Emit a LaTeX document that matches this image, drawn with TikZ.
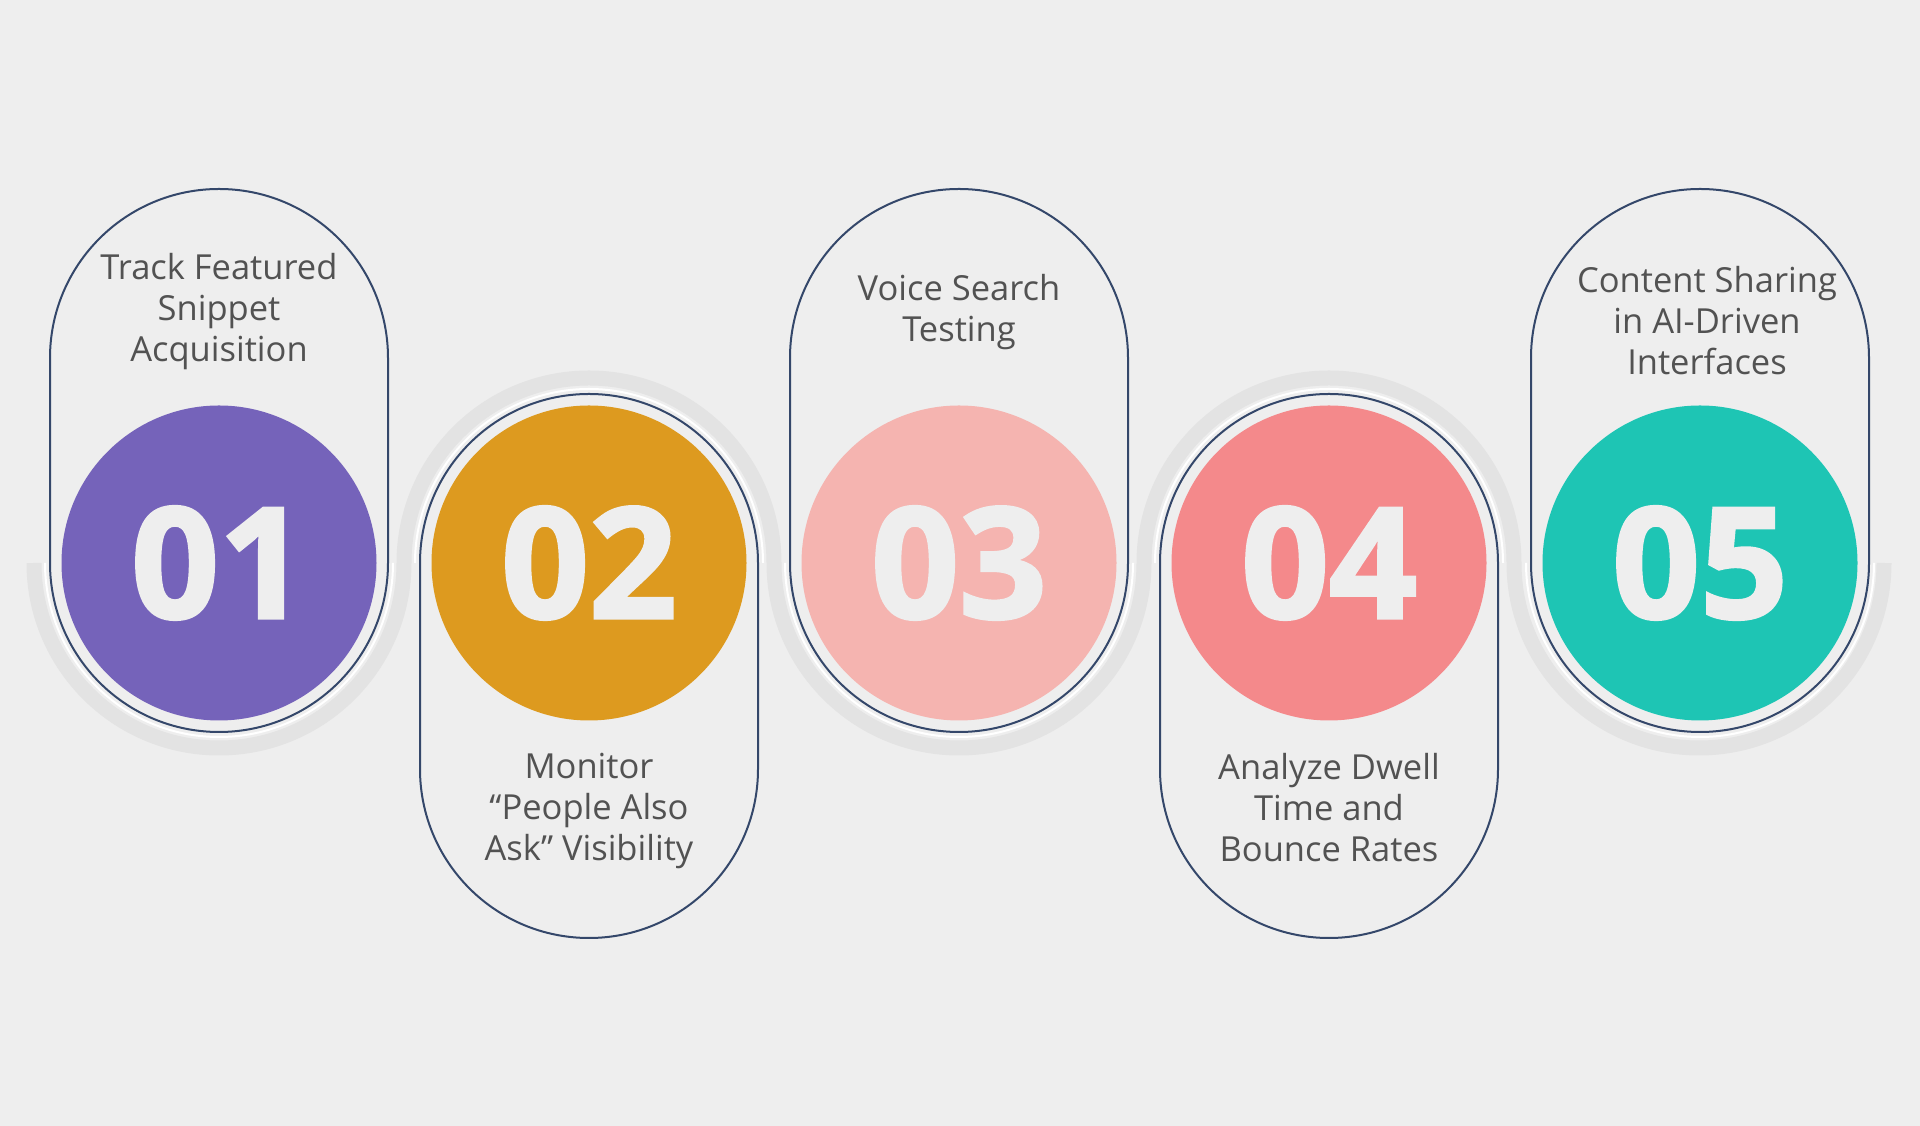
\documentclass[tikz,border=0pt]{standalone}
\usepackage{fontspec}
\setmainfont{Open Sans}
\newfontfamily\numfont{Open Sans}[FakeBold=2]
\definecolor{bgc}{HTML}{EEEEEE}
\definecolor{navyline}{HTML}{34476A}
\definecolor{bandgray}{HTML}{E3E3E3}
\definecolor{txtgray}{HTML}{525252}
\definecolor{stepA}{HTML}{7563BA}
\definecolor{stepB}{HTML}{DD9A1F}
\definecolor{stepC}{HTML}{F5B4B0}
\definecolor{stepD}{HTML}{F4898B}
\definecolor{stepE}{HTML}{1EC5B4}
\tikzset{
  pill/.style={draw=navyline, line width=2pt, fill=bgc},
  numdisc/.style={circle, minimum size=315pt, inner sep=0pt, text=bgc,
    font=\numfont\bfseries\fontsize{154}{154}\selectfont},
  steptext/.style={align=center, text=txtgray, font=\fontsize{34.5}{41}\selectfont},
}
\begin{document}
\begin{tikzpicture}[x=1pt,y=1pt]
  \fill[bgc] (0,0) rectangle (1920,1126);
  % wave band behind the steps
  \draw[bandgray, line width=15pt] (34,563) arc (180:360:185) arc (180:0:185)
    arc (180:360:185) arc (180:0:185) arc (180:360:185);
  \draw[white, line width=2pt] (45,563) arc (180:360:174);
  \draw[white, line width=2pt] (415,563) arc (180:0:174);
  \draw[white, line width=2pt] (785,563) arc (180:360:174);
  \draw[white, line width=2pt] (1155,563) arc (180:0:174);
  \draw[white, line width=2pt] (1526,563) arc (180:360:174);
  % pills
  \draw[pill] (50,563) -- (50,768) arc (180:0:169) -- (388,563) arc (0:-180:169) -- cycle;
  \draw[pill] (420,563) -- (420,357) arc (180:360:169) -- (758,563) arc (0:180:169) -- cycle;
  \draw[pill] (790,563) -- (790,768) arc (180:0:169) -- (1128,563) arc (0:-180:169) -- cycle;
  \draw[pill] (1160,563) -- (1160,357) arc (180:360:169) -- (1498,563) arc (0:180:169) -- cycle;
  \draw[pill] (1531,563) -- (1531,768) arc (180:0:169) -- (1869,563) arc (0:-180:169) -- cycle;
  % number discs
  \node[numdisc, fill=stepA] (n1) at (219,563) {01};
  \node[numdisc, fill=stepB] (n2) at (589,563) {02};
  \node[numdisc, fill=stepC] (n3) at (959,563) {03};
  \node[numdisc, fill=stepD] (n4) at (1329,563) {04};
  \node[numdisc, fill=stepE] (n5) at (1700,563) {05};
  % step texts
  \node[steptext] (t1) at (219,814) {Track Featured\\Snippet\\Acquisition};
  \node[steptext] (t2) at (589,315) {Monitor\\“People Also\\Ask” Visibility};
  \node[steptext] (t3) at (959,814) {Voice Search\\Testing};
  \node[steptext] (t4) at (1329,318) {Analyze Dwell\\Time and\\Bounce Rates};
  \node[steptext] (t5) at (1707,805) {Content Sharing\\in AI-Driven\\Interfaces};
\end{tikzpicture}
\end{document}
